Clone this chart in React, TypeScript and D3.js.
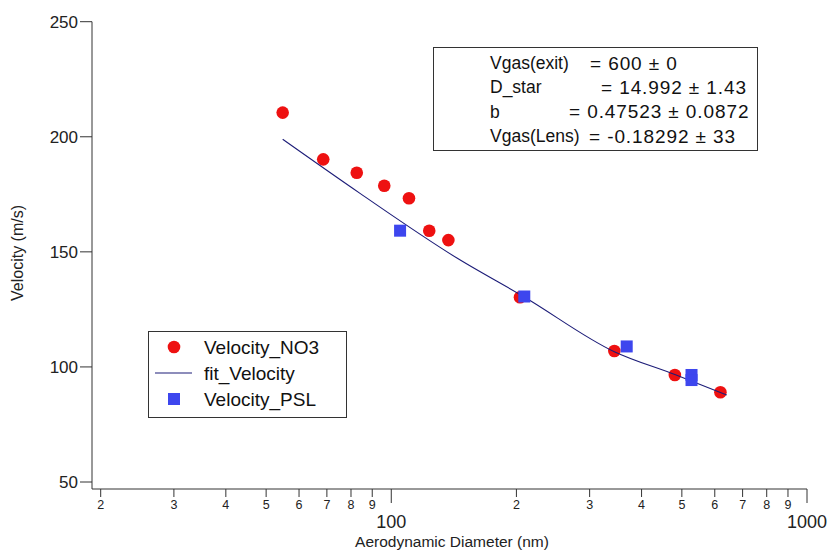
import React from "react";
import * as d3 from "d3";

const no3Diameter = [54.8, 68.6, 82.6, 96.2, 110.3, 123.4, 137.2, 204, 344, 481, 619];
const no3Velocity = [210.5, 190.2, 184.4, 178.7, 173.3, 159.2, 155.1, 130.3, 106.9, 96.5, 89];

const pslDiameter = [105, 208.9, 368.4, 527.5, 527.5];
const pslVelocity = [159.2, 130.6, 108.9, 96.5, 94.3];

const fitDiameter = [54.8, 84.1, 144.2, 208.9, 344, 481, 641];
const fitVelocity = [198.9, 175.4, 147.2, 130.4, 106.6, 96.7, 87.8];

const yTicks = [50, 100, 150, 200, 250];
const xMinorTicks = [20, 30, 40, 50, 60, 70, 80, 90, 200, 300, 400, 500, 600, 700, 800, 900];
const xMajorTicks = [100, 1000];

const legendLabels = ["Velocity_NO3", "fit_Velocity", "Velocity_PSL"];
const fitNames = ["Vgas(exit)", "D_star", "b", "Vgas(Lens)"];
const fitValues = ["= 600 ± 0", "= 14.992 ± 1.43", "= 0.47523 ± 0.0872", "= -0.18292 ± 33"];

const FONT = "'Liberation Sans', Arial, sans-serif";
const RED = "#ee1111";
const BLUE = "#3d46ee";
const LINE = "#1c1c78";
const AXIS = "#333";
const TEXT = "#222";

export default function App() {
  const x = d3.scaleLog().domain([19.06, 1000]).range([92, 807]);
  const y = d3.scaleLinear().domain([46.96, 250]).range([489, 21.7]);

  const fitPts: [number, number][] = fitDiameter.map((d, i) => [x(d), y(fitVelocity[i])]);
  const linePath = d3.line().curve(d3.curveMonotoneX)(fitPts) || "";

  const valueX = [590, 601, 569, 589];

  return (
    <svg
      width={828}
      height={552}
      style={{ position: "absolute", left: 0, top: 0, background: "#fff" }}
      fontFamily={FONT}
    >
      <rect x={0} y={0} width={828} height={552} fill="#fff" />
      {/* axes */}
      <line x1={92} y1={y(250)} x2={92} y2={489} stroke={AXIS} strokeWidth={1} />
      <line x1={92} y1={489} x2={807} y2={489} stroke={AXIS} strokeWidth={1} />
      {yTicks.map((t) => (
        <g key={"y" + t}>
          <line x1={80} x2={92} y1={y(t)} y2={y(t)} stroke={AXIS} />
          <text x={78} y={y(t)} dy="0.35em" textAnchor="end" fontSize={17} fill={TEXT}>
            {t}
          </text>
        </g>
      ))}
      {xMinorTicks.map((t) => (
        <g key={"xm" + t}>
          <line x1={x(t)} x2={x(t)} y1={489} y2={497} stroke={AXIS} />
          <text x={x(t)} y={505} dy="0.35em" textAnchor="middle" fontSize={12.5} fill={TEXT}>
            {String(t).charAt(0)}
          </text>
        </g>
      ))}
      {xMajorTicks.map((t) => (
        <g key={"xM" + t}>
          <line x1={x(t)} x2={x(t)} y1={489} y2={503} stroke={AXIS} />
          <text x={x(t)} y={522} dy="0.35em" textAnchor="middle" fontSize={18} fill={TEXT}>
            {t}
          </text>
        </g>
      ))}
      <text x={452} y={542} dy="0.35em" textAnchor="middle" fontSize={15.5} fill={TEXT}>
        Aerodynamic Diameter (nm)
      </text>
      <text
        transform={`translate(17,${253}) rotate(-90)`}
        dy="0.35em"
        textAnchor="middle"
        fontSize={16}
        fill={TEXT}
      >
        Velocity (m/s)
      </text>

      {/* data */}
      {no3Diameter.map((d, i) => (
        <circle key={"n" + i} cx={x(d)} cy={y(no3Velocity[i])} r={6.3} fill={RED} />
      ))}
      <path d={linePath} fill="none" stroke={LINE} strokeWidth={1.1} />
      {pslDiameter.map((d, i) => (
        <rect
          key={"p" + i}
          x={x(d) - 6}
          y={y(pslVelocity[i]) - 6}
          width={12}
          height={12}
          fill={BLUE}
        />
      ))}

      {/* legend */}
      <rect x={148.5} y={331.5} width={198} height={86} fill="#fff" stroke={AXIS} strokeWidth={1} />
      <circle cx={174} cy={347} r={6.3} fill={RED} />
      <line x1={155} x2={192} y1={373} y2={373} stroke={LINE} strokeWidth={1.1} />
      <rect x={168} y={393} width={12} height={12} fill={BLUE} />
      {legendLabels.map((l, i) => (
        <text key={l} x={204} y={347 + i * 26} dy="0.35em" fontSize={19} fill="#111">
          {l}
        </text>
      ))}

      {/* fit results */}
      <rect x={433.5} y={47.5} width={324} height={103} fill="#fff" stroke={AXIS} strokeWidth={1} />
      {fitNames.map((n, i) => (
        <g key={n}>
          <text x={490} y={63 + i * 24.3} dy="0.35em" fontSize={17.5} fill="#111">
            {n}
          </text>
          <text
            x={valueX[i]}
            y={63 + i * 24.3}
            dy="0.35em"
            fontSize={19}
            letterSpacing={0.9}
            fill="#111"
          >
            {fitValues[i]}
          </text>
        </g>
      ))}
    </svg>
  );
}
